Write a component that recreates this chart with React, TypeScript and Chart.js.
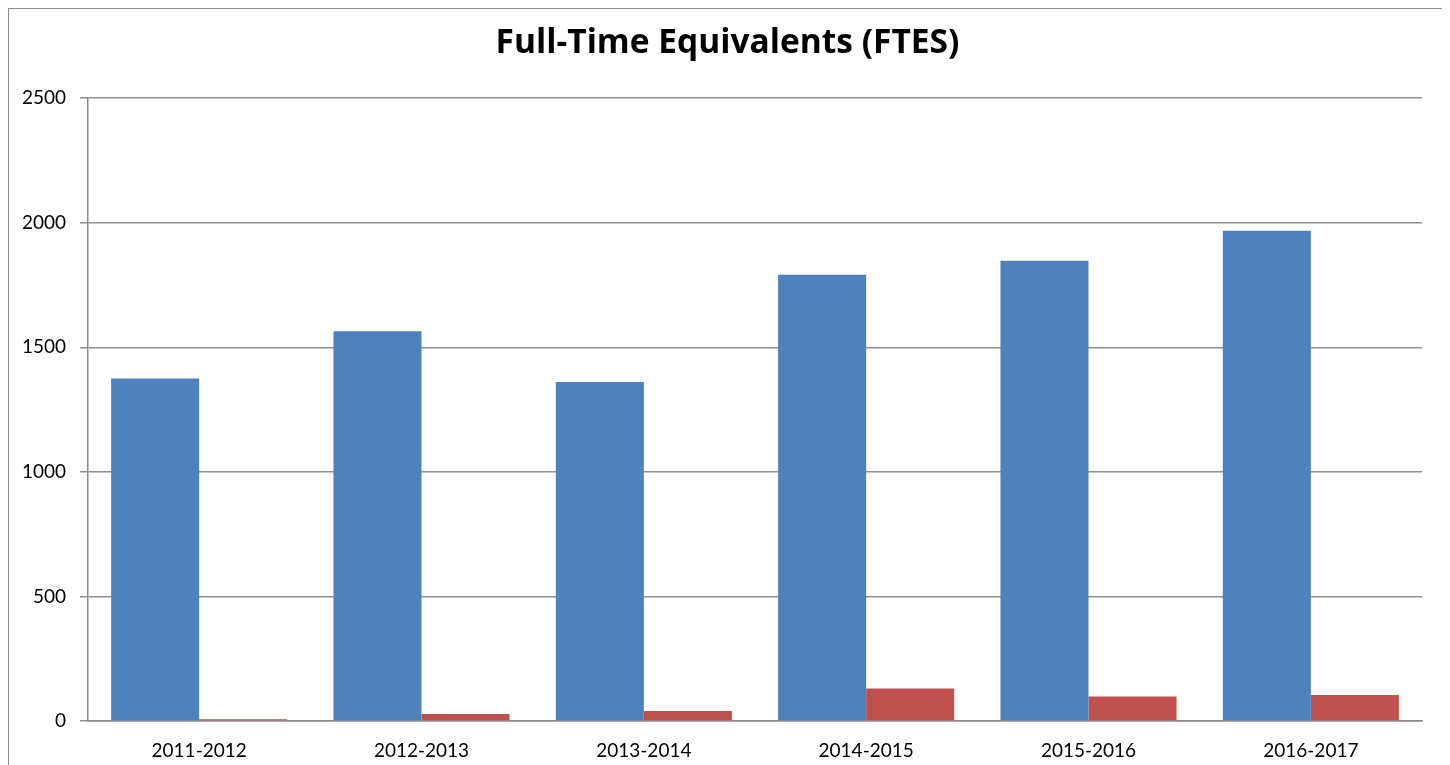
import React, { useEffect, useRef } from "react";
import { Chart, registerables } from "chart.js";

Chart.register(...registerables);

const categories = ["2011-2012", "2012-2013", "2013-2014", "2014-2015", "2015-2016", "2016-2017"];
const seriesA = [1375, 1565, 1361, 1791, 1848, 1968];
const seriesB = [7, 28, 40, 130, 98, 104];
const yTicks = [0, 500, 1000, 1500, 2000, 2500];
const titleText = "Full-Time Equivalents (FTES)";

const centerTitle = {
  id: "centerTitle",
  afterLayout(chart: any) {
    const tb = chart.titleBlock;
    if (tb) {
      tb.left = 0;
      tb.right = chart.width;
      tb.width = chart.width;
    }
  },
};

export default function App() {
  const ref = useRef<HTMLCanvasElement | null>(null);

  useEffect(() => {
    if (!ref.current) return;
    const chart = new Chart(ref.current, {
      type: "bar",
      data: {
        labels: categories,
        datasets: [
          { label: "A", data: seriesA, backgroundColor: "#4F81BD", categoryPercentage: 0.792, barPercentage: 1 },
          { label: "B", data: seriesB, backgroundColor: "#C0504D", categoryPercentage: 0.792, barPercentage: 1 },
        ],
      },
      plugins: [centerTitle],
      options: {
        responsive: false,
        animation: false,
        layout: { padding: { left: 0, right: 24, top: 0, bottom: 0 } },
        plugins: {
          legend: { display: false },
          tooltip: { enabled: false },
          title: {
            display: true,
            text: titleText,
            color: "#000",
            font: { family: "Open Sans", size: 33.5, weight: "bold" },
            padding: { top: 14, bottom: 35 },
          },
        },
        scales: {
          x: {
            grid: { display: false, drawTicks: false },
            border: { display: true, color: "#8a8a8a", width: 1.5 },
            ticks: { color: "#000", font: { family: "Lato", size: 19 }, padding: 18, maxRotation: 0 },
            afterFit: (s: any) => { s.height = 44; },
          },
          y: {
            min: 0,
            max: 2500,
            afterBuildTicks: (s: any) => { s.ticks = yTicks.map((v) => ({ value: v })); },
            grid: { color: "#8f8f8f", lineWidth: 1.5, drawTicks: true, tickLength: 8 },
            border: { display: true, color: "#8a8a8a", width: 1.5 },
            ticks: { color: "#000", font: { family: "Lato", size: 19 }, padding: 14, callback: (v: any) => String(v) },
            afterFit: (s: any) => { s.width = 79; },
          },
        },
      },
    });
    return () => chart.destroy();
  }, []);

  return (
    <div
      style={{
        width: 1439,
        height: 757,
        boxSizing: "border-box",
        border: "1px solid #8c8c8c",
        borderBottom: "none",
        background: "#fff",
        overflow: "hidden",
      }}
    >
      <canvas ref={ref} width={1437} height={756} style={{ display: "block" }} />
    </div>
  );
}
